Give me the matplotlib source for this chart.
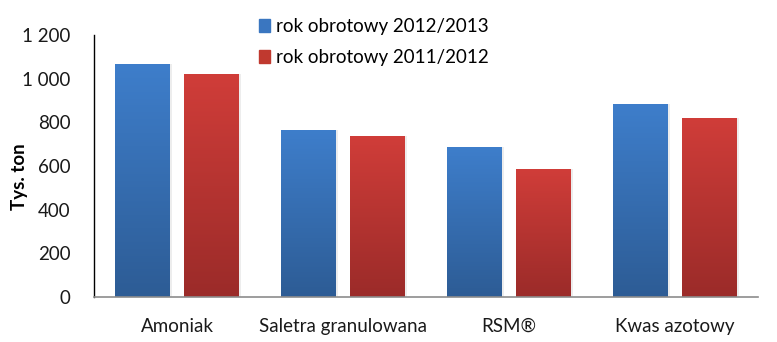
import numpy as np
import matplotlib
matplotlib.use('Agg')
import matplotlib.pyplot as plt
from matplotlib.colors import LinearSegmentedColormap
from matplotlib.ticker import FuncFormatter

categories = ['Amoniak', 'Saletra granulowana', 'RSM®', 'Kwas azotowy']
series_names = ['rok obrotowy 2012/2013', 'rok obrotowy 2011/2012']
vals_2013 = [1067, 765, 687, 882]
vals_2012 = [1021, 737, 586, 820]
y_ticks = [0, 200, 400, 600, 800, 1000, 1200]

plt.rcParams['font.family'] = ['Lato', 'DejaVu Sans']
fs = 13.5

fig = plt.figure(figsize=(7.77, 3.42), dpi=100)
ax = fig.add_axes([0.121, 0.1316, 0.8545, 0.7661])

x = np.arange(len(categories))
w = 0.33
off = 0.207

# top colour, bottom colour
grads = [('#3e7ecb', '#2d5c95'), ('#d03d39', '#9b2b29')]
legend_cols = ['#3a76c0', '#c0392f']

grad = np.linspace(0, 1, 256).reshape(-1, 1)
for vals, sign, (ctop, cbot) in zip([vals_2013, vals_2012], [-1, 1], grads):
    cmap = LinearSegmentedColormap.from_list('g', [cbot, ctop])
    # soft shadow
    ax.bar(x + sign * off + 0.006, vals, w + 0.012, color='#000000', alpha=0.07,
           zorder=1, linewidth=0)
    bars = ax.bar(x + sign * off, vals, w, color='none', zorder=2, linewidth=0)
    for b in bars:
        x0 = b.get_x()
        im = ax.imshow(grad, cmap=cmap, origin='lower', aspect='auto',
                       extent=[x0, x0 + b.get_width(), 0, b.get_height()],
                       zorder=2)
        im.set_clip_path(b)

ax.set_xlim(-0.5, len(categories) - 0.5)
ax.set_ylim(0, 1200)
ax.set_yticks(y_ticks)
ax.yaxis.set_major_formatter(FuncFormatter(lambda v, p: f'{int(v):,}'.replace(',', ' ')))
ax.set_xticks(x)
ax.set_xticklabels(categories)
ax.tick_params(axis='both', length=0, labelsize=fs, colors='#1a1a1a')
ax.tick_params(axis='x', pad=15)
ax.tick_params(axis='y', pad=17)

for s in ['top', 'right']:
    ax.spines[s].set_visible(False)
ax.spines['left'].set_color('black')
ax.spines['left'].set_linewidth(1.0)
ax.spines['bottom'].set_color('#8c8c8c')
ax.spines['bottom'].set_linewidth(1.2)

ax.set_ylabel('Tys. ton', fontsize=fs, fontweight='bold')
ax.yaxis.set_label_coords(-0.1, 0.46)

handles = [plt.Rectangle((0, 0), 1, 1, color=c) for c in legend_cols]
ax.legend(handles, series_names, loc='upper left', bbox_to_anchor=(0.237, 1.092),
          frameon=False, fontsize=fs, handlelength=0.6, handleheight=0.7,
          handletextpad=0.3, labelspacing=0.75, borderaxespad=0)

fig.savefig('out.png', dpi=100)
